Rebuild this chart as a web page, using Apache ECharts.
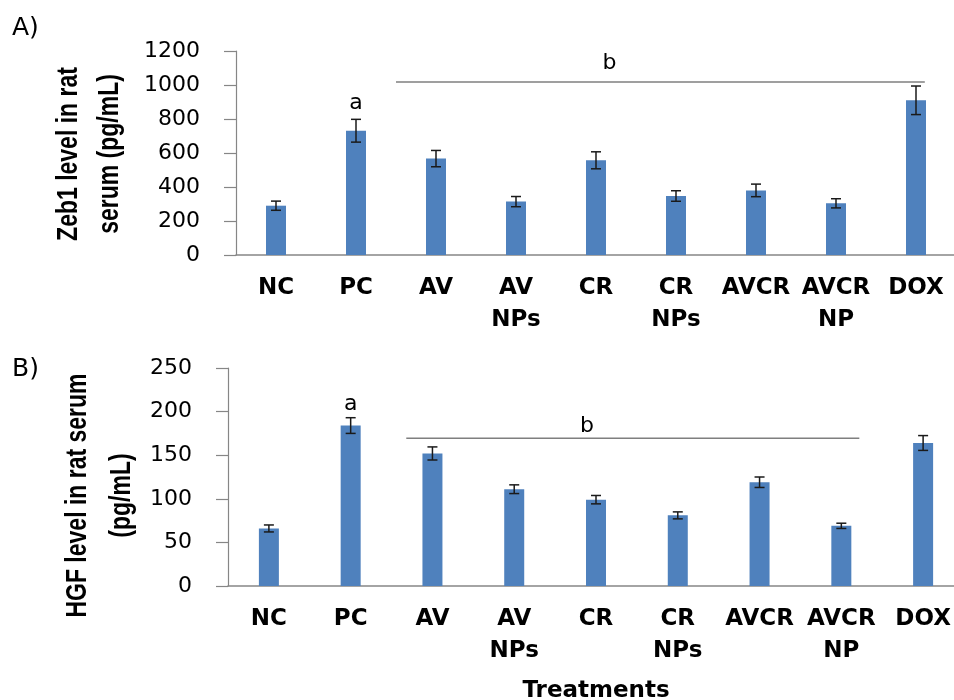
<!DOCTYPE html>
<html>
<head>
<meta charset="utf-8">
<script src="https://cdn.jsdelivr.net/npm/echarts@6/dist/echarts.min.js"></script>
<style>
html,body{margin:0;padding:0;background:#fff;}
#chart{width:954px;height:700px;}
</style>
</head>
<body>
<div id="chart"></div>
<script>
const categories = ['NC', 'PC', 'AV', 'AV\nNPs', 'CR', 'CR\nNPs', 'AVCR', 'AVCR\nNP', 'DOX'];

const zebMean = [290, 731, 567, 314, 557, 347, 380, 304, 910];
const zebErr  = [27, 67, 48, 30, 50, 31, 37, 27, 84];

const hgfMean = [66, 184, 152, 111, 99, 81, 119, 69, 164];
const hgfErr  = [4, 9, 7.5, 5, 4.8, 4, 6, 3, 8.5];

const zebTicks = { min: 0, max: 1200, interval: 200 };
const hgfTicks = { min: 0, max: 250, interval: 50 };

const zebTitle = 'Zeb1 level in rat\nserum (pg/mL)';
const hgfTitle = 'HGF level in rat serum\n(pg/mL)';
const xTitle = 'Treatments';

// significance bars: [start category (fractional), end category (fractional), value]
const zebSig = [[1.5, 8.11, 1018]];
const hgfSig = [[1.68, 7.22, 169.5]];

// letter annotations: [category position, value, text]
const zebLetters = [[1, 894, 'a'], [4.17, 1129, 'b']];
const hgfLetters = [[1, 208, 'a'], [3.89, 183, 'b']];

const BAR = '#4F81BD';
const AXIS = '#868686';
const TICKFONT = 'DejaVu Sans';
const LABFONT = 'DejaVu Sans';
const TITLEFONT = "'Liberation Sans', Arial, sans-serif";

function errData(mean, err) {
  return mean.map((m, i) => [i, m - err[i], m + err[i]]);
}

function errSeries(idx, mean, err) {
  return {
    type: 'custom',
    xAxisIndex: idx, yAxisIndex: idx,
    data: errData(mean, err),
    z: 5,
    renderItem: function (params, api) {
      const i = api.value(0);
      const lo = api.coord([i, api.value(1)]);
      const hi = api.coord([i, api.value(2)]);
      const hw = 5;
      const style = { stroke: '#1a1a1a', lineWidth: 1.5 };
      return {
        type: 'group',
        children: [
          { type: 'line', shape: { x1: lo[0], y1: lo[1], x2: hi[0], y2: hi[1] }, style: style },
          { type: 'line', shape: { x1: lo[0] - hw, y1: lo[1], x2: lo[0] + hw, y2: lo[1] }, style: style },
          { type: 'line', shape: { x1: hi[0] - hw, y1: hi[1], x2: hi[0] + hw, y2: hi[1] }, style: style }
        ]
      };
    }
  };
}

function sigSeries(idx, sig) {
  return {
    type: 'custom',
    xAxisIndex: idx, yAxisIndex: idx,
    data: sig,
    z: 4,
    renderItem: function (params, api) {
      const bw = api.size([1, 0])[0];
      const v = api.value(2);
      const base = api.coord([0, v]);
      return {
        type: 'line',
        shape: { x1: base[0] + api.value(0) * bw, y1: base[1], x2: base[0] + api.value(1) * bw, y2: base[1] },
        style: { stroke: '#7f7f7f', lineWidth: 1.5 }
      };
    }
  };
}

function letterSeries(idx, letters) {
  return {
    type: 'custom',
    xAxisIndex: idx, yAxisIndex: idx,
    data: letters.map(l => [l[0], l[1]]),
    z: 6,
    renderItem: function (params, api) {
      const bw = api.size([1, 0])[0];
      const base = api.coord([0, api.value(1)]);
      return {
        type: 'text',
        x: base[0] + api.value(0) * bw,
        y: base[1],
        style: {
          text: letters[params.dataIndex][2],
          fontFamily: TICKFONT, fontSize: 22, fill: '#000',
          align: 'center', verticalAlign: 'middle'
        }
      };
    }
  };
}

function yAxis(idx, ticks) {
  return {
    type: 'value',
    gridIndex: idx,
    min: ticks.min, max: ticks.max, interval: ticks.interval,
    axisLine: { show: true, lineStyle: { color: AXIS, width: 1.2 } },
    axisTick: { show: true, length: 12, lineStyle: { color: AXIS, width: 1.2 } },
    splitLine: { show: false },
    axisLabel: { fontFamily: TICKFONT, fontSize: 22, color: '#000', margin: 36, formatter: v => String(v) }
  };
}

function xAxis(idx, extra) {
  return Object.assign({
    type: 'category',
    gridIndex: idx,
    data: categories,
    axisLine: { show: true, lineStyle: { color: AXIS, width: 1.5 } },
    axisTick: { show: false },
    axisLabel: { interval: 0, fontFamily: LABFONT, fontWeight: 'bold', fontSize: 23, color: '#000', lineHeight: 32, margin: 17 }
  }, extra || {});
}

function rotatedTitle(text, x, y, lineHeight) {
  return {
    type: 'text', x: x, y: y, rotation: Math.PI / 2, scaleX: 1, scaleY: 1.3,
    style: {
      text: text, fontFamily: TITLEFONT, fontWeight: 'bold', fontSize: 23,
      lineHeight: lineHeight, fill: '#000', align: 'center', verticalAlign: 'middle'
    }
  };
}

const chart = echarts.init(document.getElementById('chart'), null, { renderer: 'canvas' });
chart.setOption({
  backgroundColor: '#fff',
  animation: false,
  grid: [
    { left: 236, top: 51, width: 720, height: 204, outerBoundsMode: 'none', containLabel: false },
    { left: 228, top: 368, width: 736, height: 218, outerBoundsMode: 'none', containLabel: false }
  ],
  xAxis: [
    xAxis(0),
    xAxis(1, {
      name: xTitle, nameLocation: 'middle', nameGap: 94,
      nameTextStyle: { fontFamily: LABFONT, fontWeight: 'bold', fontSize: 23, color: '#000' }
    })
  ],
  yAxis: [yAxis(0, zebTicks), yAxis(1, hgfTicks)],
  graphic: [
    { type: 'text', left: 12, top: 16, style: { text: 'A)', fontFamily: TICKFONT, fontSize: 25, fill: '#000' } },
    { type: 'text', left: 12, top: 357, style: { text: 'B)', fontFamily: TICKFONT, fontSize: 25, fill: '#000' } },
    rotatedTitle(zebTitle, 89.5, 154, 31.5),
    rotatedTitle(hgfTitle, 100, 495.5, 33.6)
  ],
  series: [
    { type: 'bar', xAxisIndex: 0, yAxisIndex: 0, data: zebMean, barWidth: 20, itemStyle: { color: BAR } },
    errSeries(0, zebMean, zebErr),
    sigSeries(0, zebSig),
    letterSeries(0, zebLetters),
    { type: 'bar', xAxisIndex: 1, yAxisIndex: 1, data: hgfMean, barWidth: 20, itemStyle: { color: BAR } },
    errSeries(1, hgfMean, hgfErr),
    sigSeries(1, hgfSig),
    letterSeries(1, hgfLetters)
  ]
});
</script>
</body>
</html>
